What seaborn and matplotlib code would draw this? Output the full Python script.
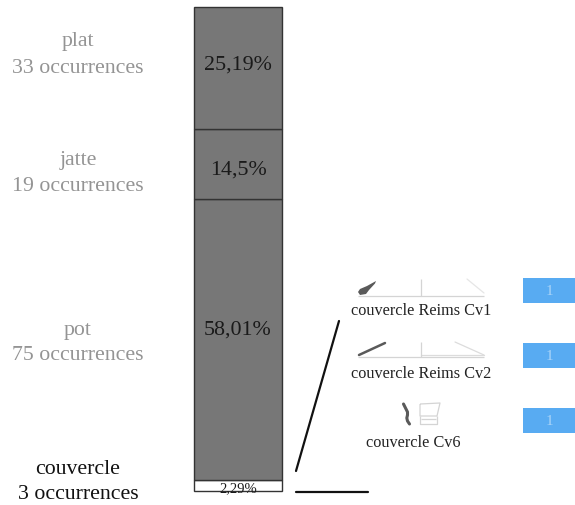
import matplotlib
matplotlib.use("Agg")
import matplotlib.pyplot as plt
import seaborn as sns

W, H = 575, 506

# stacked column, bottom to top
CATEGORIES = ["couvercle", "pot", "jatte", "plat"]
OCCURRENCES = [3, 75, 19, 33]
PERCENTS = [2.29, 58.01, 14.5, 25.19]
PERCENT_LABELS = ["2,29%", "58,01%", "14,5%", "25,19%"]
BAR_COLORS = ["#ffffff", "#777777", "#777777", "#777777"]
TEXT_COLORS = ["#111111", "#949494", "#949494", "#949494"]

# detail of the couvercle segment
TYPES = ["couvercle Reims Cv1", "couvercle Reims Cv2", "couvercle Cv6"]
TYPE_COUNTS = [1, 1, 1]

# pixel anchors for the free text
CAT_LABEL_Y = [(469.5, 495), (330.5, 355.5), (160, 186), (41.5, 68.5)]
PCT_LABEL_Y = [488.5, 330.5, 170.5, 65.5]
TYPE_LABEL_Y = [311, 374, 443]


def px_axes(fig, left, top, right, bottom):
    return fig.add_axes([left / W, 1 - bottom / H, (right - left) / W, (bottom - top) / H])


def draw_profiles(ov):
    """Small pottery profile sketches next to each type name."""
    light = dict(color="#d4d4d4", lw=0.9, solid_capstyle="butt")
    dark = dict(color="#5a5a5a", solid_capstyle="round")

    # Cv1
    ov.plot([358, 484], [296.5, 296.5], **light)
    ov.plot([421, 421], [280, 296.5], **light)
    ov.plot([467, 484], [280, 294], color="#e6e6e6", lw=0.9)
    ov.fill([358, 360, 367, 376, 375, 369, 366, 360], [293, 290, 287, 282, 284.5, 291, 295, 296],
            color="#5a5a5a", lw=0)

    # Cv2
    ov.plot([358, 484], [357.5, 357.5], **light)
    ov.plot([421, 484], [356, 356], color="#dcdcdc", lw=0.9)
    ov.plot([421, 421], [343, 357.5], **light)
    ov.plot([455, 484], [343, 356], color="#dcdcdc", lw=0.9)
    ov.plot([359, 372, 385], [356, 350, 344], lw=1.8, **dark)

    # Cv6
    ov.plot([403.5, 405.5, 407.5, 407.5, 406.8, 407.5, 409.5], [405, 409, 413, 416, 419, 422, 425],
            lw=2.2, **dark)
    ov.plot([420, 440, 437, 420, 420], [405, 404, 417, 417, 405], **light)
    ov.plot([420, 420, 437, 437], [417, 425, 425, 417], **light)
    ov.plot([421, 436], [420, 420], **light)


def main():
    sns.set_theme(style="white")
    plt.rcParams["font.family"] = ["Liberation Serif", "DejaVu Serif"]

    fig = plt.figure(figsize=(W / 100, H / 100), dpi=100, facecolor="white")

    # stacked column
    ax = px_axes(fig, 193.5, 8, 282.5, 492)
    bottom = 0
    for pct, color in zip(PERCENTS, BAR_COLORS):
        sns.barplot(x=[0], y=[pct], bottom=bottom, width=1, color=color, saturation=1,
                    edgecolor="#333333", linewidth=1, ax=ax)
        bottom += pct
    ax.set_xlim(-0.5, 0.5)
    ax.set_ylim(0, sum(PERCENTS))
    ax.set_axis_off()
    for p in ax.patches:
        p.set_clip_on(False)

    # blue count bars, running off the right edge
    ax_counts = px_axes(fig, 523, 259, 575, 454)
    sns.barplot(y=TYPES, x=TYPE_COUNTS, orient="y", width=0.385, color="#58abf2", saturation=1,
                linewidth=0, ax=ax_counts)
    ax_counts.set_xlim(0, 1)
    ax_counts.set_axis_off()
    for cont in ax_counts.containers:
        ax_counts.bar_label(cont, label_type="center", color="#a9d4f8", fontsize=11)

    # overlay in pixel coordinates for labels and connectors
    ov = fig.add_axes([0, 0, 1, 1], facecolor="none")
    ov.set_xlim(0, W)
    ov.set_ylim(H, 0)
    ov.set_axis_off()

    for cat, n, (y1, y2), col in zip(CATEGORIES, OCCURRENCES, CAT_LABEL_Y, TEXT_COLORS):
        ov.text(78, y1, cat, ha="center", va="center", fontsize=15.7, color=col)
        ov.text(78, y2, f"{n} occurrences", ha="center", va="center", fontsize=15.7, color=col)

    for label, y, size in zip(PERCENT_LABELS, PCT_LABEL_Y, [10.5, 15.8, 15.8, 15.8]):
        ov.text(238, y, label, ha="center", va="center", fontsize=size, color="#1a1a1a")

    for name, y in zip(TYPES, TYPE_LABEL_Y):
        ov.text(421 if "Reims" in name else 413, y, name, ha="center", va="center",
                fontsize=11.7, color="#222222")

    ov.plot([296, 339], [472, 322], color="#111111", lw=1.6)
    ov.plot([296, 368], [492.7, 492.7], color="#111111", lw=1.6)
    draw_profiles(ov)

    fig.savefig("out.png", dpi=100, facecolor="white")
    plt.close(fig)


if __name__ == "__main__":
    main()
